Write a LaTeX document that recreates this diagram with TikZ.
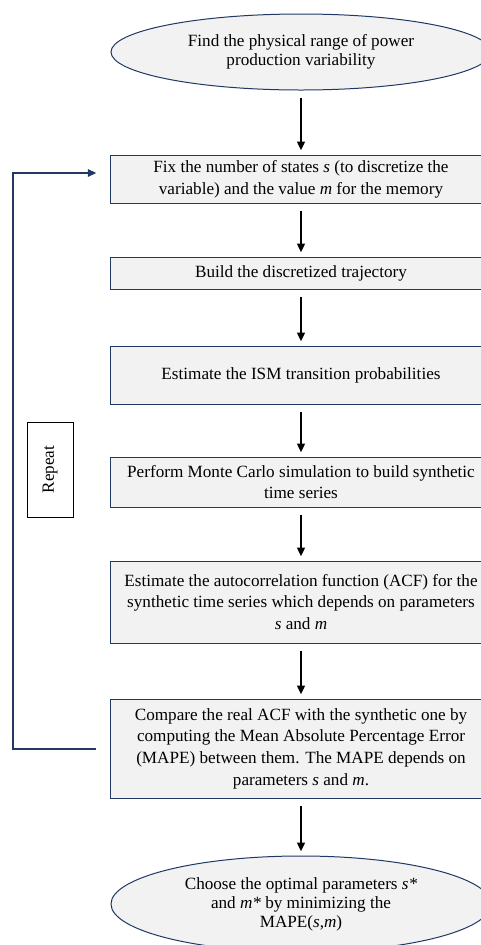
\documentclass[tikz,border=0pt]{standalone}
\usepackage{fontspec}
\setmainfont{Liberation Serif}
\usetikzlibrary{shapes.geometric,arrows.meta}
\definecolor{navy}{RGB}{32,56,100}
\definecolor{boxgray}{RGB}{242,242,242}
\tikzset{
  stepbox/.style={rectangle, draw=navy, line width=0.7pt, fill=boxgray, minimum width=266pt, align=center, font=\fontsize{12}{15.2}\selectfont},
  endbox/.style={ellipse, draw=navy, line width=0.7pt, fill=boxgray, minimum width=266pt, align=center, font=\fontsize{12}{13.3}\selectfont},
  flow/.style={-{Triangle[length=6pt,width=5.5pt]}, line width=1.1pt, shorten <=5pt, shorten >=3pt},
  loopline/.style={-{Triangle[length=6pt,width=5pt]}, draw=navy, line width=1.4pt}
}
\begin{document}
\begin{tikzpicture}[x=0.7pt,y=-0.7pt]
	\clip (0,0) rectangle (481,945);
	\node[endbox, minimum height=53.2pt] (find) at (301,52) {Find the physical range of power\\production variability};
	\node[stepbox, minimum height=33.6pt] (fix) at (301,179) {Fix the number of states \textit{s} (to discretize the\\variable) and the value \textit{m} for the memory};
	\node[stepbox, minimum height=22.4pt] (build) at (301,273) {Build the discretized trajectory};
	\node[stepbox, minimum height=40.6pt] (ism) at (301,375) {Estimate the ISM transition probabilities};
	\node[stepbox, minimum height=35pt] (monte) at (301,482) {Perform Monte Carlo simulation to build synthetic\\time series};
	\node[stepbox, minimum height=57.4pt] (acf) at (301,602) {Estimate the autocorrelation function (ACF) for the\\synthetic time series which depends on parameters\\\textit{s} and \textit{m}};
	\node[stepbox, minimum height=69.3pt] (compare) at (301,748.5) {Compare the real ACF with the synthetic one by\\computing the Mean Absolute Percentage Error\\(MAPE) between them. The MAPE depends on\\parameters \textit{s} and \textit{m}.};
	\node[endbox, minimum height=67.2pt] (choose) at (301,904) {Choose the optimal parameters \textit{s*}\\and \textit{m*} by minimizing the\\MAPE(\textit{s},\textit{m})};
	\node[draw, rotate=90, line width=0.6pt, minimum width=66.5pt, minimum height=32.2pt, font=\fontsize{12}{14}\selectfont] (repeat) at (50,469.5) {Repeat};
	\coordinate (loopcorner) at (12.7,173);

	\path [flow] (find) edge (fix);
	\path [flow] (fix) edge (build);
	\path [flow] (build) edge (ism);
	\path [flow] (ism) edge (monte);
	\path [flow] (monte) edge (acf);
	\path [flow] (acf) edge (compare);
	\path [flow] (compare) edge (choose);
	\draw [loopline] ([xshift=-9.8pt]compare.west) -| (loopcorner) -- ([xshift=-9.8pt]loopcorner -| fix.west);
\end{tikzpicture}
\end{document}
